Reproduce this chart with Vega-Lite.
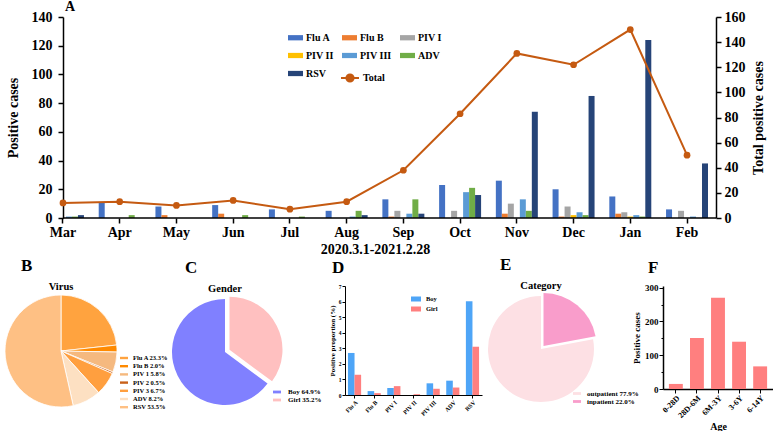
{
  "$schema": "https://vega.github.io/schema/vega-lite/v6.json",
  "padding": {"left": 3, "top": 0, "right": 0, "bottom": 0},
  "autosize": {"type": "pad"},
  "columns": 1,
  "align": "none",
  "spacing": 0,
  "datasets": {
    "cases": [
      {"month": "Mar", "virus": "Flu A", "n": 8},
      {"month": "Mar", "virus": "PIV III", "n": 1},
      {"month": "Mar", "virus": "ADV", "n": 1},
      {"month": "Mar", "virus": "RSV", "n": 2},
      {"month": "Apr", "virus": "Flu A", "n": 11},
      {"month": "Apr", "virus": "ADV", "n": 2},
      {"month": "May", "virus": "Flu A", "n": 8},
      {"month": "May", "virus": "Flu B", "n": 2},
      {"month": "Jun", "virus": "Flu A", "n": 9},
      {"month": "Jun", "virus": "Flu B", "n": 3},
      {"month": "Jun", "virus": "ADV", "n": 2},
      {"month": "Jul", "virus": "Flu A", "n": 6},
      {"month": "Jul", "virus": "ADV", "n": 1},
      {"month": "Aug", "virus": "Flu A", "n": 5},
      {"month": "Aug", "virus": "PIV III", "n": 1},
      {"month": "Aug", "virus": "ADV", "n": 5},
      {"month": "Aug", "virus": "RSV", "n": 2},
      {"month": "Sep", "virus": "Flu A", "n": 13},
      {"month": "Sep", "virus": "Flu B", "n": 1},
      {"month": "Sep", "virus": "PIV I", "n": 5},
      {"month": "Sep", "virus": "PIV III", "n": 3},
      {"month": "Sep", "virus": "ADV", "n": 13},
      {"month": "Sep", "virus": "RSV", "n": 3},
      {"month": "Oct", "virus": "Flu A", "n": 23},
      {"month": "Oct", "virus": "PIV I", "n": 5},
      {"month": "Oct", "virus": "PIV III", "n": 18},
      {"month": "Oct", "virus": "ADV", "n": 21},
      {"month": "Oct", "virus": "RSV", "n": 16},
      {"month": "Nov", "virus": "Flu A", "n": 26},
      {"month": "Nov", "virus": "Flu B", "n": 3},
      {"month": "Nov", "virus": "PIV I", "n": 10},
      {"month": "Nov", "virus": "PIV III", "n": 13},
      {"month": "Nov", "virus": "ADV", "n": 5},
      {"month": "Nov", "virus": "RSV", "n": 74},
      {"month": "Dec", "virus": "Flu A", "n": 20},
      {"month": "Dec", "virus": "Flu B", "n": 1},
      {"month": "Dec", "virus": "PIV I", "n": 8},
      {"month": "Dec", "virus": "PIV II", "n": 2},
      {"month": "Dec", "virus": "PIV III", "n": 4},
      {"month": "Dec", "virus": "ADV", "n": 2},
      {"month": "Dec", "virus": "RSV", "n": 85},
      {"month": "Jan", "virus": "Flu A", "n": 15},
      {"month": "Jan", "virus": "Flu B", "n": 3},
      {"month": "Jan", "virus": "PIV I", "n": 4},
      {"month": "Jan", "virus": "PIV II", "n": 1},
      {"month": "Jan", "virus": "PIV III", "n": 2},
      {"month": "Jan", "virus": "ADV", "n": 1},
      {"month": "Jan", "virus": "RSV", "n": 124},
      {"month": "Feb", "virus": "Flu A", "n": 6},
      {"month": "Feb", "virus": "PIV I", "n": 5},
      {"month": "Feb", "virus": "PIV III", "n": 1},
      {"month": "Feb", "virus": "RSV", "n": 38}
    ],
    "totals": [
      {"month": "Mar", "total": 12},
      {"month": "Apr", "total": 13},
      {"month": "May", "total": 10},
      {"month": "Jun", "total": 14},
      {"month": "Jul", "total": 7},
      {"month": "Aug", "total": 13},
      {"month": "Sep", "total": 38},
      {"month": "Oct", "total": 83},
      {"month": "Nov", "total": 131},
      {"month": "Dec", "total": 122},
      {"month": "Jan", "total": 150},
      {"month": "Feb", "total": 50}
    ],
    "virusShare": [
      {"label": "Flu A 23.3%", "pct": 23.3, "i": 1},
      {"label": "Flu B 2.0%", "pct": 2.0, "i": 2},
      {"label": "PIV 1 5.8%", "pct": 5.8, "i": 3},
      {"label": "PIV 2 0.5%", "pct": 0.5, "i": 4},
      {"label": "PIV 3 6.7%", "pct": 6.7, "i": 5},
      {"label": "ADV 8.2%", "pct": 8.2, "i": 6},
      {"label": "RSV 53.5%", "pct": 53.5, "i": 7}
    ],
    "genderShare": [
      {"label": "Girl 35.2%", "pct": 35.2, "i": 1},
      {"label": "Boy 64.9%", "pct": 64.9, "i": 2}
    ],
    "categoryShare": [
      {"label": "inpatient 22.0%", "pct": 22.0, "i": 1},
      {"label": "outpatient 77.9%", "pct": 77.9, "i": 2}
    ],
    "genderProp": [
      {"virus": "Flu A", "gender": "Boy", "p": 2.7},
      {"virus": "Flu A", "gender": "Girl", "p": 1.3},
      {"virus": "Flu B", "gender": "Boy", "p": 0.25},
      {"virus": "Flu B", "gender": "Girl", "p": 0.12},
      {"virus": "PIV I", "gender": "Boy", "p": 0.45},
      {"virus": "PIV I", "gender": "Girl", "p": 0.57},
      {"virus": "PIV II", "gender": "Boy", "p": 0},
      {"virus": "PIV II", "gender": "Girl", "p": 0.05},
      {"virus": "PIV III", "gender": "Boy", "p": 0.75},
      {"virus": "PIV III", "gender": "Girl", "p": 0.4},
      {"virus": "ADV", "gender": "Boy", "p": 0.92},
      {"virus": "ADV", "gender": "Girl", "p": 0.48},
      {"virus": "RSV", "gender": "Boy", "p": 6.02},
      {"virus": "RSV", "gender": "Girl", "p": 3.1}
    ],
    "ages": [
      {"age": "0-28D", "n": 15},
      {"age": "28D-6M", "n": 151},
      {"age": "6M-3Y", "n": 270},
      {"age": "3-6Y", "n": 140},
      {"age": "6-14Y", "n": 67}
    ]
  },
  "concat": [
    {
      "spacing": 0,
      "resolve": {"scale": {"color": "independent", "stroke": "independent"}, "legend": {"color": "independent", "stroke": "independent"}},
      "hconcat": [
        {
          "width": 1,
          "height": 1,
          "data": {"values": []},
          "mark": {"type": "point", "opacity": 0},
          "encoding": {}
        },
        {
          "width": 653,
          "height": 201,
          "title": {"text": "A", "fontSize": 14, "offset": -4, "dx": 2},
          "layer": [
            {
              "layer": [
                {
                  "data": {"name": "cases"},
                  "mark": {"type": "bar", "clip": true},
                  "encoding": {
                    "x": {
                      "field": "month", "type": "nominal",
                      "sort": ["Mar", "Apr", "May", "Jun", "Jul", "Aug", "Sep", "Oct", "Nov", "Dec", "Jan", "Feb"],
                      "scale": {"range": [-28.4, 652.4], "paddingInner": 0.26, "paddingOuter": 0.13},
                      "axis": {"title": "2020.3.1-2021.2.28", "labelAngle": 0, "domain": false, "tickSize": 5, "tickWidth": 1.5, "labelFontSize": 14, "labelPadding": 2, "titleFontSize": 14, "titlePadding": 3}
                    },
                    "xOffset": {"field": "virus", "type": "nominal", "scale": {"domain": ["Flu A", "Flu B", "PIV I", "PIV II", "PIV III", "ADV", "RSV"]}},
                    "y": {
                      "field": "n", "type": "quantitative",
                      "scale": {"domain": [0, 140]},
                      "axis": {"title": "Positive cases", "values": [0, 20, 40, 60, 80, 100, 120, 140], "labelOverlap": false, "labelFontSize": 14, "titleFontSize": 14, "tickSize": 5, "tickWidth": 1.5, "domainWidth": 1.5, "labelPadding": 6, "titlePadding": 11}
                    },
                    "color": {
                      "field": "virus", "type": "nominal",
                      "scale": {"domain": ["Flu A", "Flu B", "PIV I", "PIV II", "PIV III", "ADV", "RSV"], "range": ["#4472C4", "#ED7D31", "#A5A5A5", "#FFC000", "#5B9BD5", "#70AD47", "#264478"]},
                      "legend": {"orient": "none", "legendX": 225, "legendY": 13, "direction": "horizontal", "columns": 3, "title": null, "symbolType": "M-1,-0.35H1V0.35H-1Z", "symbolSize": 225, "labelFontSize": 10, "labelOffset": 3, "rowPadding": 5, "columnPadding": 8}
                    }
                  }
                },
                {
                  "data": {"values": [{}]},
                  "mark": {"type": "rule", "color": "#000", "strokeWidth": 1.5},
                  "encoding": {
                    "y": {
                      "datum": 0, "type": "quantitative",
                      "axis": {"title": "Positive cases", "values": [0, 20, 40, 60, 80, 100, 120, 140], "labelOverlap": false, "labelFontSize": 14, "titleFontSize": 14, "tickSize": 5, "tickWidth": 1.5, "domainWidth": 1.5, "labelPadding": 6, "titlePadding": 11}
                    }
                  }
                }
              ]
            },
            {
              "data": {"name": "totals"},
              "layer": [
                {
                  "mark": {"type": "line", "strokeWidth": 2},
                  "encoding": {
                    "x": {"field": "month", "type": "nominal", "sort": ["Mar", "Apr", "May", "Jun", "Jul", "Aug", "Sep", "Oct", "Nov", "Dec", "Jan", "Feb"]},
                    "y": {
                      "field": "total", "type": "quantitative",
                      "scale": {"domain": [0, 160]},
                      "axis": {"orient": "right", "title": "Total positive cases", "titleAngle": 270, "titleBaseline": "top", "values": [0, 20, 40, 60, 80, 100, 120, 140, 160], "labelOverlap": false, "labelFontSize": 14, "titleFontSize": 14, "tickSize": 5, "tickWidth": 1.5, "domainWidth": 1.5, "labelPadding": 3, "titlePadding": 6}
                    },
                    "stroke": {
                      "datum": "Total", "type": "nominal",
                      "scale": {"range": ["#C55A11"]},
                      "legend": {"orient": "none", "legendX": 277, "legendY": 51, "title": null, "symbolType": "M-1,0H1M0.4,0A0.4,0.4,0,1,1,-0.4,0A0.4,0.4,0,1,1,0.4,0Z", "symbolSize": 324, "symbolStrokeWidth": 2, "symbolFillColor": "#C55A11", "labelFontSize": 10, "labelOffset": 3}
                    }
                  }
                },
                {
                  "mark": {"type": "point", "filled": true, "size": 45, "color": "#C55A11", "opacity": 1},
                  "encoding": {
                    "x": {"field": "month", "type": "nominal", "sort": ["Mar", "Apr", "May", "Jun", "Jul", "Aug", "Sep", "Oct", "Nov", "Dec", "Jan", "Feb"]},
                    "y": {
                      "field": "total", "type": "quantitative",
                      "axis": {"orient": "right", "title": "Total positive cases", "titleAngle": 270, "titleBaseline": "top", "values": [0, 20, 40, 60, 80, 100, 120, 140, 160], "labelOverlap": false, "labelFontSize": 14, "titleFontSize": 14, "tickSize": 5, "tickWidth": 1.5, "domainWidth": 1.5, "labelPadding": 3, "titlePadding": 6}
                    }
                  }
                }
              ]
            }
          ],
          "resolve": {"scale": {"y": "independent"}}
        }
      ]
    },
    {
      "spacing": 6,
      "resolve": {"scale": {"color": "independent", "theta": "independent", "xOffset": "independent"}},
      "hconcat": [
        {
          "bounds": "flush",
          "spacing": 55,
          "resolve": {"scale": {"color": "independent", "theta": "independent"}},
          "hconcat": [
            {
              "width": 112,
              "height": 130,
              "title": {"text": "B", "dx": 16},
              "layer": [
                {
                  "data": {"name": "virusShare"},
                  "mark": {"type": "arc", "outerRadius": 56, "stroke": "#ffffff", "strokeWidth": 0.8},
                  "encoding": {
                    "theta": {"field": "pct", "type": "quantitative", "stack": true},
                    "order": {"field": "i", "type": "quantitative"},
                    "color": {
                      "field": "label", "type": "nominal",
                      "scale": {"domain": ["Flu A 23.3%", "Flu B 2.0%", "PIV 1 5.8%", "PIV 2 0.5%", "PIV 3 6.7%", "ADV 8.2%", "RSV 53.5%"], "range": ["#FFA33F", "#FF8A00", "#F5B97F", "#C8611A", "#FF9F3F", "#FDE0C2", "#FEC084"]},
                      "legend": {"orient": "none", "legendX": 115, "legendY": 68, "title": null, "symbolType": "M-1,-0.3H1V0.3H-1Z", "symbolSize": 64, "labelFontSize": 6.5, "labelOffset": 5, "rowPadding": 0.2}
                    }
                  }
                },
                {
                  "data": {"values": [{"t": "Virus"}]},
                  "mark": {"type": "text", "dy": -64, "fontSize": 10.5, "fontWeight": "bold"},
                  "encoding": {"text": {"field": "t"}}
                }
              ]
            },
            {
              "width": 106,
              "height": 132,
              "title": {"text": "C", "dx": 13},
              "layer": [
                {
                  "data": {"name": "genderShare"},
                  "transform": [{"stack": "pct", "groupby": [], "sort": [{"field": "i"}], "as": ["v0", "v1"]}],
                  "layer": [
                    {
                      "transform": [{"filter": "datum.i == 2"}],
                      "mark": {"type": "arc", "outerRadius": 53},
                      "encoding": {
                        "theta": {"field": "v0", "type": "quantitative", "scale": {"domain": [0, 100.1]}},
                        "theta2": {"field": "v1"},
                        "color": {
                          "field": "label", "type": "nominal",
                          "scale": {"domain": ["Boy 64.9%", "Girl 35.2%"], "range": ["#8080FF", "#FFC0C0"]},
                          "legend": {"orient": "none", "legendX": 101, "legendY": 102, "title": null, "symbolType": "M-1,-0.35H1V0.35H-1Z", "symbolSize": 64, "labelFontSize": 7, "labelOffset": 7, "rowPadding": 1}
                        }
                      }
                    },
                    {
                      "transform": [{"filter": "datum.i == 1"}],
                      "mark": {"type": "arc", "outerRadius": 53, "xOffset": 4.5, "yOffset": -2.3},
                      "encoding": {
                        "theta": {"field": "v0", "type": "quantitative"},
                        "theta2": {"field": "v1"},
                        "color": {"field": "label", "type": "nominal"}
                      }
                    }
                  ]
                },
                {
                  "data": {"values": [{"t": "Gender"}]},
                  "mark": {"type": "text", "dy": -63, "fontSize": 10.5, "fontWeight": "bold"},
                  "encoding": {"text": {"field": "t"}}
                }
              ]
            }
          ]
        },
        {
          "width": 137,
          "height": 109,
          "title": {"text": "D", "dx": -13},
          "data": {"name": "genderProp"},
          "mark": {"type": "bar"},
          "encoding": {
            "x": {
              "field": "virus", "type": "nominal",
              "sort": ["Flu A", "Flu B", "PIV I", "PIV II", "PIV III", "ADV", "RSV"],
              "scale": {"paddingInner": 0.33, "paddingOuter": 0.15},
              "axis": {"title": null, "labelAngle": -45, "labelFontSize": 6, "tickSize": 3, "labelPadding": 1, "domainWidth": 1}
            },
            "xOffset": {"field": "gender", "type": "nominal", "sort": ["Boy", "Girl"]},
            "y": {
              "field": "p", "type": "quantitative",
              "scale": {"domain": [0, 7]},
              "axis": {"title": "Positive proportion (%)", "values": [0, 1, 2, 3, 4, 5, 6, 7], "labelOverlap": false, "labelFontSize": 5.5, "titleFontSize": 7, "tickSize": 3, "labelPadding": 1, "titlePadding": 3, "domainWidth": 1}
            },
            "color": {
              "field": "gender", "type": "nominal",
              "scale": {"domain": ["Boy", "Girl"], "range": ["#4EA5F7", "#FF7F7F"]},
              "legend": {"orient": "none", "legendX": 66, "legendY": 8, "title": null, "symbolType": "M-1,-0.5H1V0.5H-1Z", "symbolSize": 100, "labelFontSize": 6.5, "labelOffset": 5, "rowPadding": 1}
            }
          }
        },
        {
          "bounds": "flush",
          "spacing": 69,
          "resolve": {"scale": {"color": "independent", "theta": "independent"}},
          "hconcat": [
            {
              "width": 106,
              "height": 126,
              "title": {"text": "E", "dx": 12},
              "layer": [
                {
                  "data": {"name": "categoryShare"},
                  "transform": [{"stack": "pct", "groupby": [], "sort": [{"field": "i"}], "as": ["v0", "v1"]}],
                  "layer": [
                    {
                      "transform": [{"filter": "datum.i == 2"}],
                      "mark": {"type": "arc", "outerRadius": 53},
                      "encoding": {
                        "theta": {"field": "v0", "type": "quantitative", "scale": {"domain": [0, 99.9]}},
                        "theta2": {"field": "v1"},
                        "color": {
                          "field": "label", "type": "nominal",
                          "scale": {"domain": ["outpatient 77.9%", "inpatient 22.0%"], "range": ["#FDE0E4", "#F99DCB"]},
                          "legend": {"orient": "none", "legendX": 85, "legendY": 103.5, "title": null, "symbolType": "M-1,-0.35H1V0.35H-1Z", "symbolSize": 64, "labelFontSize": 7, "labelOffset": 6, "rowPadding": 1}
                        }
                      }
                    },
                    {
                      "transform": [{"filter": "datum.i == 1"}],
                      "mark": {"type": "arc", "outerRadius": 53, "xOffset": 2.5, "yOffset": -3},
                      "encoding": {
                        "theta": {"field": "v0", "type": "quantitative"},
                        "theta2": {"field": "v1"},
                        "color": {"field": "label", "type": "nominal"}
                      }
                    }
                  ]
                },
                {
                  "data": {"values": [{"t": "Category"}]},
                  "mark": {"type": "text", "dy": -63, "fontSize": 10.5, "fontWeight": "bold"},
                  "encoding": {"text": {"field": "t"}}
                }
              ]
            },
            {
              "width": 110,
              "height": 103,
              "title": {"text": "F", "dx": -15},
              "data": {"name": "ages"},
              "mark": {"type": "bar", "color": "#FF7F7F"},
              "encoding": {
                "x": {
                  "field": "age", "type": "nominal",
                  "sort": ["0-28D", "28D-6M", "6M-3Y", "3-6Y", "6-14Y"],
                  "scale": {"paddingInner": 0.34, "paddingOuter": 0.28},
                  "axis": {"title": "Age", "labelAngle": -45, "labelFontSize": 8, "titleFontSize": 10, "tickSize": 4, "labelPadding": 1, "titlePadding": 2, "domainWidth": 1.5}
                },
                "y": {
                  "field": "n", "type": "quantitative",
                  "scale": {"domain": [0, 305], "nice": false},
                  "axis": {"title": "Positive cases", "values": [0, 50, 100, 150, 200, 250, 300], "labelOverlap": false, "labelExpr": "datum.value % 100 === 0 ? datum.label : ''", "tickSize": {"condition": {"test": "datum.value % 100 === 0", "value": 4}, "value": 2}, "labelFontSize": 9, "titleFontSize": 9, "labelPadding": 1, "titlePadding": 3, "domainWidth": 1.5}
                }
              }
            }
          ]
        }
      ]
    }
  ],
  "resolve": {"scale": {"color": "independent", "theta": "independent", "xOffset": "independent", "stroke": "independent"}},
  "config": {
    "font": "Liberation Serif",
    "view": {"stroke": null},
    "axis": {"labelFont": "Liberation Serif", "titleFont": "Liberation Serif", "labelFontWeight": "bold", "titleFontWeight": "bold", "labelColor": "#000", "titleColor": "#000", "domainColor": "#000", "tickColor": "#000", "grid": false},
    "legend": {"labelFont": "Liberation Serif", "labelFontWeight": "bold", "labelColor": "#000", "padding": 0, "symbolStrokeWidth": 0},
    "title": {"font": "Liberation Serif", "fontWeight": "bold", "color": "#000", "fontSize": 17, "offset": 7, "anchor": "start", "frame": "group"},
    "text": {"font": "Liberation Serif", "color": "#000"}
  }
}
